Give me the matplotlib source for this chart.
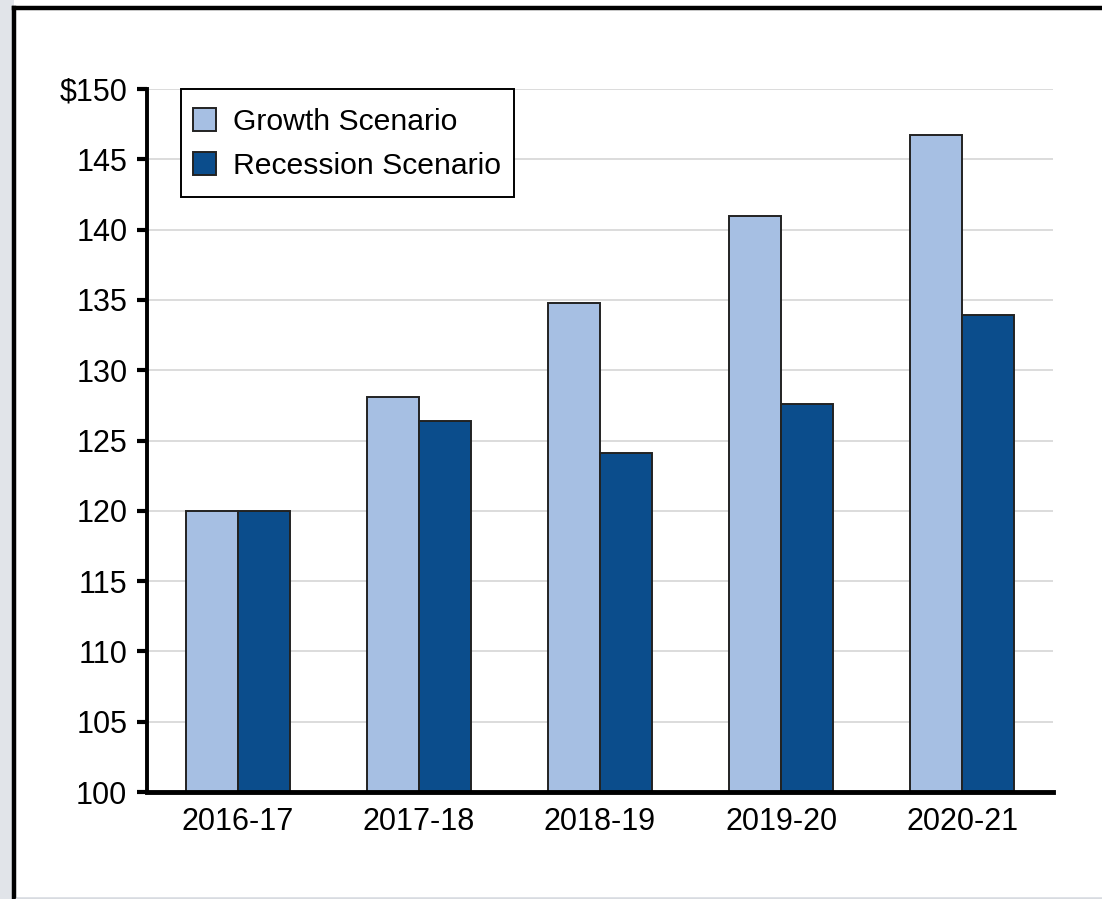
import matplotlib
matplotlib.use("Agg")
import matplotlib.pyplot as plt
import numpy as np
from matplotlib.patches import Rectangle
from matplotlib.lines import Line2D

categories = ["2016-17", "2017-18", "2018-19", "2019-20", "2020-21"]
growth = [120.0, 128.1, 134.8, 141.0, 146.7]
recession = [120.0, 126.4, 124.1, 127.6, 133.9]
yticks = [100, 105, 110, 115, 120, 125, 130, 135, 140, 145, 150]
ytick_labels = ["100", "105", "110", "115", "120", "125", "130", "135", "140", "145", "$150"]

plt.rcParams['font.family'] = ['Liberation Sans', 'DejaVu Sans']

W, H = 1102, 899
fig = plt.figure(figsize=(W / 100, H / 100), dpi=100)
fig.patch.set_facecolor("#e1e4e9")

# white panel with black top/left border
fig.add_artist(Rectangle((14 / W, 1 - 897 / H), 1.0, 897 / H, transform=fig.transFigure,
                         facecolor="white", edgecolor="none", zorder=0))
fig.add_artist(Line2D([14 / W, 1.01], [1 - 7.5 / H, 1 - 7.5 / H], transform=fig.transFigure,
                      color="black", lw=3.2))
fig.add_artist(Line2D([14 / W, 14 / W], [1 - 7.5 / H, -0.01], transform=fig.transFigure,
                      color="black", lw=3.2))
fig.add_artist(Line2D([16 / W, 1.01], [1 - 897.5 / H, 1 - 897.5 / H], transform=fig.transFigure,
                      color="#d8dbe0", lw=1.0))

ax = fig.add_axes([147 / W, 1 - 792 / H, (1053 - 147) / W, (792 - 89) / H])
ax.set_facecolor("white")

x = np.arange(len(categories))
bw = 0.287
ax.bar(x - bw / 2, np.array(growth) - 100, bw, bottom=100, color="#a6bfe3",
       edgecolor="#222222", linewidth=1.4, label="Growth Scenario", zorder=3)
ax.bar(x + bw / 2, np.array(recession) - 100, bw, bottom=100, color="#0b4d8c",
       edgecolor="#222222", linewidth=1.4, label="Recession Scenario", zorder=3)

ax.set_xlim(-0.5, 4.5)
ax.set_ylim(100, 150)
ax.set_yticks(yticks)
ax.set_yticklabels(ytick_labels)
ax.set_xticks(x)
ax.set_xticklabels(categories)
ax.yaxis.grid(True, color="#d9d9d9", linewidth=1.3, zorder=0)
ax.set_axisbelow(True)

for s in ["top", "right"]:
    ax.spines[s].set_visible(False)
ax.spines["left"].set_linewidth(2.8)
ax.spines["bottom"].set_linewidth(3.5)
ax.spines["left"].set_zorder(5)
ax.spines["bottom"].set_zorder(5)
ax.tick_params(axis="y", length=7, width=3, labelsize=22, pad=7.2, colors="black")
ax.tick_params(axis="x", length=0, labelsize=22, pad=10.5)

# legend frame drawn separately for exact padding
fig.add_artist(Rectangle((181 / W, 1 - 197 / H), (514 - 181) / W, (197 - 89) / H,
                         transform=fig.transFigure, facecolor="white", edgecolor="black",
                         linewidth=1.4, zorder=10))
leg = fig.legend(*ax.get_legend_handles_labels(), loc="upper left",
                 bbox_to_anchor=(193 / W, 1 - 108 / H), fontsize=21.7,
                 frameon=False, handlelength=0.76, handleheight=0.76,
                 handletextpad=0.56, labelspacing=0.53, borderpad=0.0,
                 borderaxespad=0.0)
leg.set_zorder(11)

fig.savefig("out.png", dpi=100)
